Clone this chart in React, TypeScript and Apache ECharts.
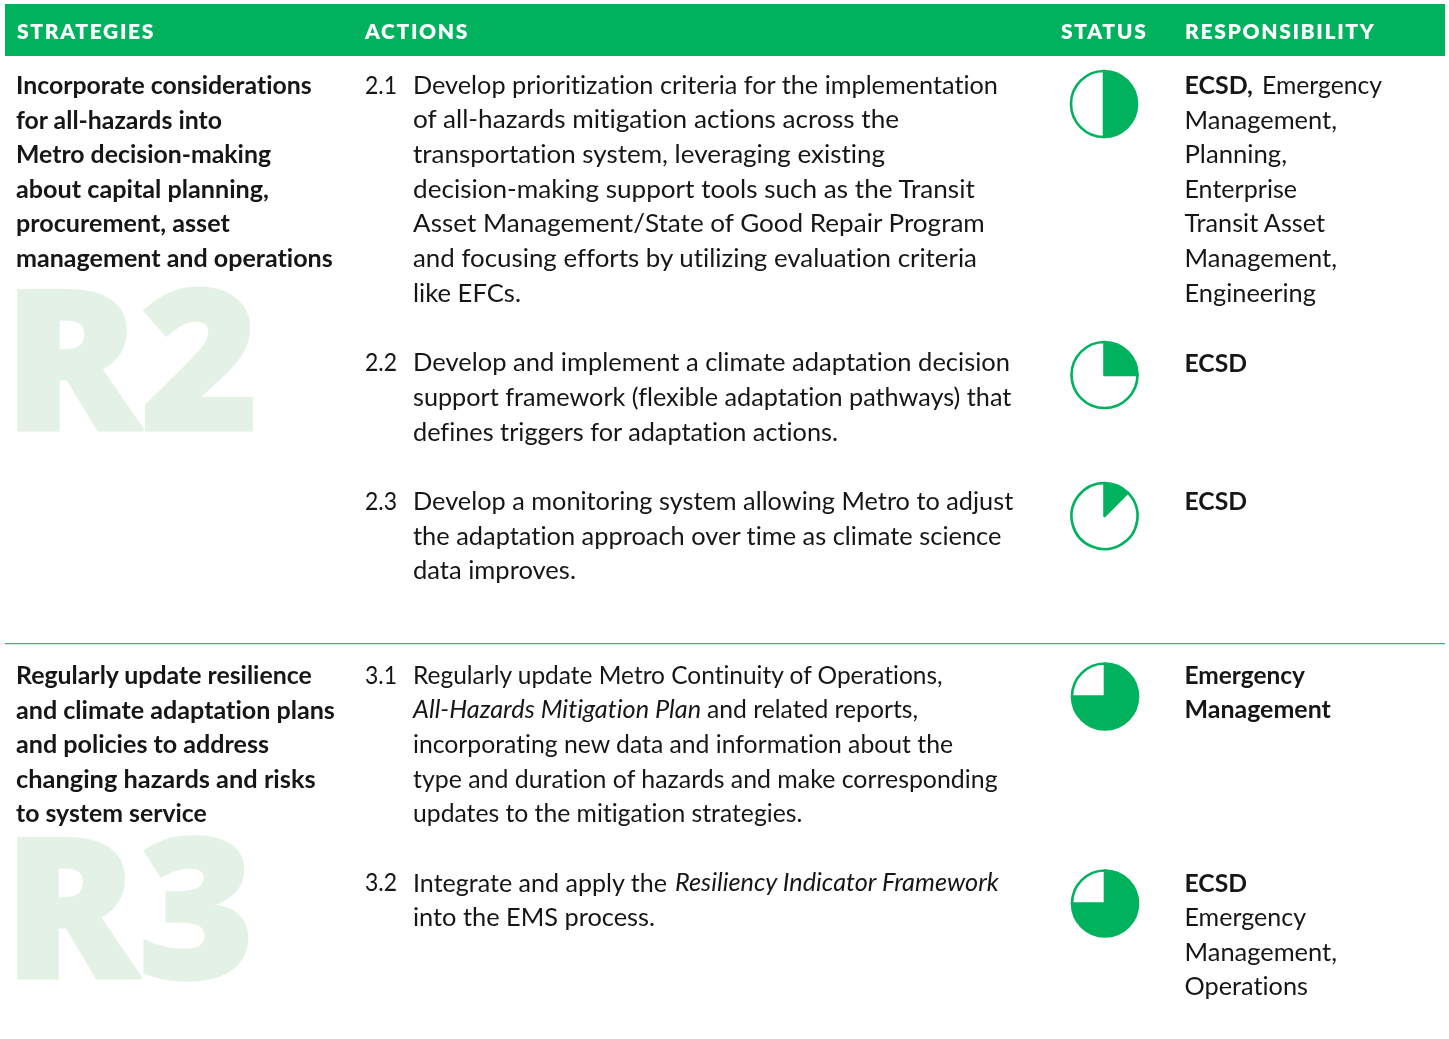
import React, { useEffect, useRef } from "react";
import * as echarts from "echarts";

const headers = ["STRATEGIES", "ACTIONS", "STATUS", "RESPONSIBILITY"];
const strategyR2 = ["Incorporate considerations", "for all-hazards into", "Metro decision-making", "about capital planning,", "procurement, asset", "management and operations"];
const strategyR3 = ["Regularly update resilience", "and climate adaptation plans", "and policies to address", "changing hazards and risks", "to system service"];
const watermarks = ["R2", "R3"];
const actionNumbers = ["2.1", "2.2", "2.3", "3.1", "3.2"];
const action21 = ["Develop prioritization criteria for the implementation", "of all-hazards mitigation actions across the", "transportation system, leveraging existing", "decision-making support tools such as the Transit", "Asset Management/State of Good Repair Program", "and focusing efforts by utilizing evaluation criteria", "like EFCs."];
const action22 = ["Develop and implement a climate adaptation decision", "support framework (flexible adaptation pathways) that", "defines triggers for adaptation actions."];
const action23 = ["Develop a monitoring system allowing Metro to adjust", "the adaptation approach over time as climate science", "data improves."];
const action31 = ["Regularly update Metro Continuity of Operations,", "", "incorporating new data and information about the", "type and duration of hazards and make corresponding", "updates to the mitigation strategies."];
const action32 = ["", "into the EMS process."];
const resp21 = ["", "Management,", "Planning,", "Enterprise", "Transit Asset", "Management,", "Engineering"];
const resp32 = ["", "Emergency", "Management,", "Operations"];
const statusPercent = [50, 25, 12.5, 75, 75];

// Layout only: the right edge of each printed line, so that lines keep the reference's measure.
const endsS2 = [312, 222, 271, 269, 230, 333];
const endsS3 = [312, 335, 269, 316, 207];
const ends21 = [998, 899, 885, 975, 985, 977, 521];
const ends22 = [1010, 1011, 838];
const ends23 = [1013, 1001, 576];
const ends31 = [943, 0, 953, 998, 802];
const ends32 = [0, 655];
const endsR21 = [0, 1337, 1287, 1297, 1325, 1337, 1316];
const endsR32 = [0, 1306, 1337, 1308];

const GREEN = "#00b25d";
const INK = "#161616";
const PALE = "#e4f1e6";
const FONT = "Lato";
const STEP = 34.6;

function App() {
  const ref = useRef<HTMLDivElement>(null);
  useEffect(() => {
    document.body.style.margin = "0";
    const probe = document.createElement("span");
    probe.style.cssText = "position:absolute;visibility:hidden;white-space:pre";
    document.body.appendChild(probe);
    const measure = (t: string, font: string) => {
      probe.style.font = font;
      probe.style.fontVariantLigatures = "none";
      probe.textContent = t;
      return probe.getBoundingClientRect().width;
    };
    const chart = echarts.init(ref.current!, undefined, { renderer: "svg" });
    const txt = (text: string, x: number, y: number, size: number, weight: any, fill: string, end = 0, italic = false, family = FONT) => {
      const font = `${italic ? "italic " : ""}${weight} ${size}px ${family}`;
      const el: any = { type: "text", x, y: y - 1, silent: true, style: { text, fill, font, textAlign: "left", textVerticalAlign: "middle" } };
      if (end) el.scaleX = (end - x) / measure(text, font);
      return el;
    };
    const block = (lines: string[], ends: number[], x: number, y: number, size: number, weight: any) =>
      lines.map((l, i) => (l ? txt(l, x, y + i * STEP, size, weight, INK, ends[i]) : null)).filter(Boolean);
    const mark = (label: string, y: number, end: number) => {
      const el = txt(label, 3.5, y, 195, 900, PALE, end, false, "Noto Sans");
      el.style.stroke = PALE;
      el.style.lineWidth = 3;
      return el;
    };
    const BODY = 25.2, BOLD = 25;
    const RX = 1184.5;
    const ballCentres = [[1104, 104], [1104.5, 375], [1104.5, 516], [1105, 696.5], [1105, 903.5]];
    const graphicEls: any[] = [
      { type: "rect", shape: { x: 5, y: 4, width: 1440, height: 52 }, style: { fill: GREEN }, silent: true },
      { type: "rect", shape: { x: 5, y: 643, width: 1440, height: 1.3 }, style: { fill: "#34b877" }, silent: true },
      ...headers.map((h, i) => txt(h, [17, 365, 1061, 1185][i], 31.5, 21, 800, "#ffffff")),
      mark(watermarks[0], 355.5, 259),
      mark(watermarks[1], 903.5, 255),
      ...block(strategyR2, endsS2, 16, 85, BOLD, 700),
      ...block(strategyR3, endsS3, 16, 675, BOLD, 700),
      ...[85, 362.5, 501, 675, 882.5].map((y, i) => txt(actionNumbers[i], 365, y, BODY, 400, INK, 397)),
      ...block(action21, ends21, 413, 85, BODY, 400),
      ...block(action22, ends22, 413, 362.5, BODY, 400),
      ...block(action23, ends23, 413, 501, BODY, 400),
      ...block(action31, ends31, 413, 675, BODY, 400),
      txt("All-Hazards Mitigation Plan", 413, 709, BODY, 400, INK, 701, true),
      txt("and related reports,", 707, 709, BODY, 400, INK, 918),
      txt("Integrate and apply the", 413, 882.5, BODY, 400, INK, 667),
      txt("Resiliency Indicator Framework", 675, 882.5, BODY, 400, INK, 999, true),
      ...block(action32, ends32, 413, 882.5, BODY, 400),
      txt("ECSD,", RX, 85, BOLD, 700, INK, 1253),
      txt("Emergency", 1262, 85, BODY, 400, INK, 1382),
      ...block(resp21, endsR21, RX, 85, BODY, 400),
      txt("ECSD", RX, 362.5, BOLD, 700, INK, 1247),
      txt("ECSD", RX, 500.5, BOLD, 700, INK, 1247),
      txt("Emergency", RX, 675, BOLD, 700, INK, 1305),
      txt("Management", RX, 709, BOLD, 700, INK, 1331),
      txt("ECSD", RX, 882.5, BOLD, 700, INK, 1247),
      ...block(resp32, endsR32, RX, 882.5, BODY, 400),
    ];
    probe.remove();
    chart.setOption({
      animation: false,
      graphic: { elements: graphicEls.map((e) => ({ ...e, z: 1 })) },
      series: statusPercent.map((p, i) => ({
        type: "pie",
        center: ballCentres[i],
        radius: [0, 33],
        startAngle: 90,
        clockwise: true,
        silent: true,
        label: { show: false },
        labelLine: { show: false },
        data: [
          { value: p, itemStyle: { color: GREEN } },
          { value: 100 - p, itemStyle: { color: "#ffffff" } },
        ],
        itemStyle: { borderColor: GREEN, borderWidth: 2.6 },
        z: 5,
      })),
    });
    return () => chart.dispose();
  }, []);
  return (
    <>
      <style>{`#c text{font-variant-ligatures:none !important} #c text[style*="800 21px"]{letter-spacing:1.65px}`}</style>
      <div id="c" ref={ref} style={{ position: "fixed", left: 0, top: 0, width: 1449, height: 1039 }} />
    </>
  );
}
export default App;
